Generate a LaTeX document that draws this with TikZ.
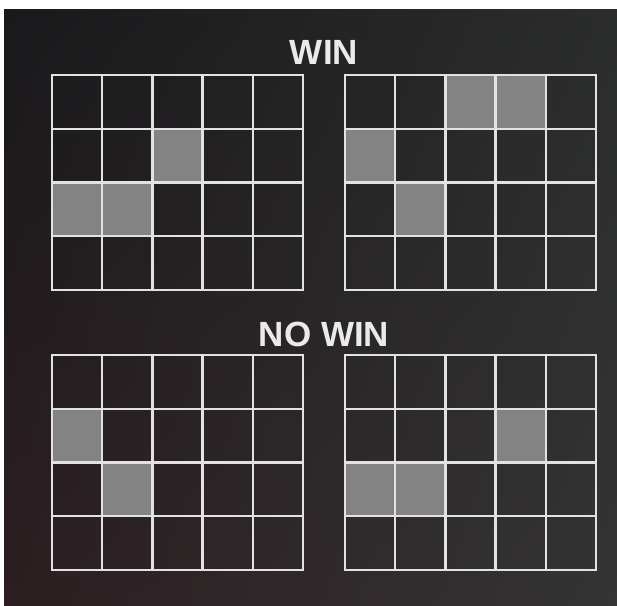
\documentclass[tikz,border=0pt]{standalone}
\usepackage{fontspec}
\setmainfont{Liberation Sans}
\usetikzlibrary{shadings}
\definecolor{bgTL}{HTML}{19191B}
\definecolor{bgTR}{HTML}{2B2C2C}
\definecolor{bgBL}{HTML}{2C1E21}
\definecolor{bgBR}{HTML}{343435}
\definecolor{gridc}{HTML}{E2E2E2}
\definecolor{hitc}{HTML}{838383}
\definecolor{titlec}{HTML}{EAEAEA}
\newcommand\bingogrid[3]{%
  \begin{scope}[shift={(#1,#2)}]
    \foreach \c/\r in {#3}
      \fill[hitc] ({(\c-1)*50.2},{-(\r-1)*53.75}) rectangle ({\c*50.2},{-\r*53.75});
    \foreach \i in {0,...,5}
      \draw[gridline] ({\i*50.2},0) -- ({\i*50.2},-215);
    \foreach \j in {0,...,4}
      \draw[gridline] (0,{-\j*53.75}) -- (251,{-\j*53.75});
  \end{scope}}
\begin{document}
\begin{tikzpicture}[x=1pt,y=1pt,
  gridline/.style={draw=gridc, line width=2.4pt, line cap=rect},
  title/.style={text=titlec, font=\fontsize{35}{40}\selectfont\bfseries, inner sep=0pt}]
\useasboundingbox (0,0) rectangle (617,605);
\fill[white] (0,0) rectangle (617,605);
\shade[upper left=bgTL, upper right=bgTR, lower left=bgBL, lower right=bgBR] (4,0) rectangle (617,595);
\bingogrid{52}{530}{3/2,1/3,2/3}
\bingogrid{345}{530}{3/1,4/1,1/2,2/3}
\bingogrid{52}{250}{1/2,2/3}
\bingogrid{345}{250}{4/2,1/3,2/3}
\node[title] (win) at (324,553) {WIN};
\node[title] (nowin) at (324,271) {NO WIN};
\end{tikzpicture}
\end{document}
